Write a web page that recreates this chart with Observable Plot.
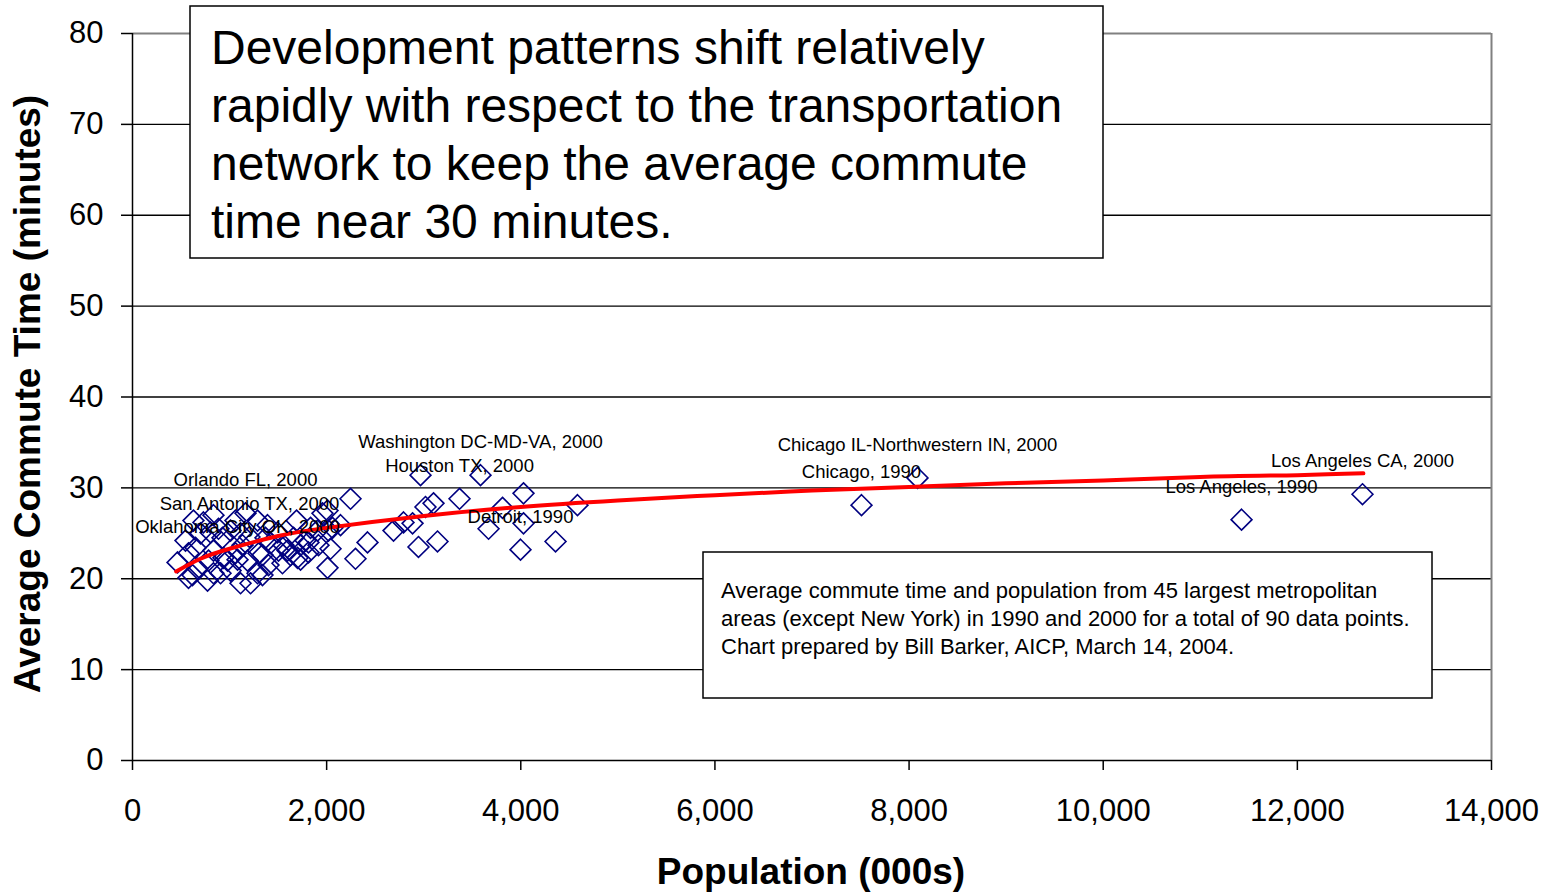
<!DOCTYPE html>
<html><head><meta charset="utf-8">
<script src="https://cdn.jsdelivr.net/npm/d3@7"></script>
<script src="https://cdn.jsdelivr.net/npm/@observablehq/plot@0.6"></script>
<style>html,body{margin:0;padding:0;background:#fff;}</style>
</head><body><div id="chart"></div>
<script>
const population = [12671, 11425, 8087, 7510, 4584, 4358, 4028, 3997, 4028, 3812,
  3668, 3585, 3369, 3101, 3018, 2967, 2946, 3142, 2885, 2792,
  2689, 2421, 2297, 2246, 2060, 1957, 2019, 1916, 1813, 1813,
  1731, 1628, 1504, 1422, 1339, 2009, 628, 834, 1164, 886,
  1010, 1391, 1494, 1834, 2009, 464, 577, 649, 783, 834,
  979, 1061, 1133, 1205, 1185, 618, 773, 907, 1113, 1010,
  1288, 1597, 1700, 1782, 1659, 1545, 1082, 701, 804, 927,
  1113, 1288, 670, 937, 1298, 577, 1216, 834, 1370, 1556,
  2040, 1401, 731, 1061, 1690, 2143, 1339, 1731, 546, 1906];
const commuteTime = [29.3, 26.5, 31.1, 28.1, 28.1, 24.1, 29.4, 23.2, 26.1, 27.8,
  25.5, 31.4, 28.8, 28.3, 27.9, 31.4, 23.5, 24.1, 26.1, 26.2,
  25.3, 24.0, 22.2, 28.8, 25.6, 27.2, 25.3, 23.7, 24.0, 22.9,
  22.1, 22.6, 23.1, 23.9, 22.6, 21.2, 26.4, 27.0, 27.2, 25.5,
  25.3, 25.9, 25.1, 25.6, 27.5, 21.8, 22.8, 23.4, 22.0, 23.1,
  22.0, 22.8, 23.7, 24.6, 22.0, 20.4, 19.8, 20.6, 19.5, 20.9,
  20.6, 23.1, 22.3, 24.2, 24.5, 21.7, 22.1, 25.0, 25.1, 24.5,
  25.0, 26.4, 21.1, 22.3, 22.8, 20.1, 19.5, 20.6, 24.5, 23.7,
  23.3, 21.5, 26.2, 26.4, 26.4, 25.9, 20.4, 23.7, 24.2, 25.3];
const labelIndex = [0, 1, 2, 3, 7, 11, 12, 38, 53, 66];
const labelText = ["Los Angeles CA, 2000", "Los Angeles, 1990", "Chicago IL-Northwestern IN, 2000",
  "Chicago, 1990", "Detroit, 1990", "Washington DC-MD-VA, 2000", "Houston TX, 2000",
  "Orlando FL, 2000", "San Antonio TX, 2000", "Oklahoma City OK, 2000"];
const trendPopulation = [450, 700, 1000, 1500, 2000, 3000, 4000, 5000, 6000, 7000, 8000, 9000, 10000, 11000, 12000, 12680];
const trendCommute = [20.8, 22.2, 23.3, 24.7, 25.6, 26.9, 27.9, 28.6, 29.2, 29.7, 30.1, 30.5, 30.8, 31.2, 31.4, 31.6];
const yTicks = [0, 10, 20, 30, 40, 50, 60, 70, 80];
const gridValues = [10, 20, 30, 40, 50, 60, 70];
const xTicks = [0, 2000, 4000, 6000, 8000, 10000, 12000, 14000];
const titleLines = ["Development patterns shift relatively", "rapidly with respect to the transportation",
  "network to keep the average commute", "time near 30 minutes."];
const noteLines = ["Average commute time and population from 45 largest metropolitan",
  "areas (except New York) in 1990 and 2000 for a total of 90 data points.",
  "Chart prepared by Bill Barker, AICP, March 14, 2004."];

const points = population.map((p, i) => ({population: p, commute: commuteTime[i]}));
const labeled = labelIndex.map((k, j) => ({population: population[k], commute: commuteTime[k], text: labelText[j]}));
const trend = trendPopulation.map((p, i) => ({population: p, commute: trendCommute[i]}));

const FONT = "'Liberation Sans', Arial, sans-serif";
const plot = Plot.plot({
  width: 1553, height: 894,
  marginLeft: 132, marginRight: 62, marginTop: 33, marginBottom: 134,
  style: {fontFamily: FONT, background: "#fff", color: "#000"},
  x: {domain: [0, 14000]},
  y: {domain: [0, 80]},
  marks: [
    Plot.ruleY(gridValues, {stroke: "#000", strokeWidth: 1.3}),
    Plot.ruleY([80], {stroke: "#808080", strokeWidth: 2}),
    Plot.ruleX([14000], {stroke: "#808080", strokeWidth: 2}),
    Plot.ruleX([0], {stroke: "#000", strokeWidth: 1.5}),
    Plot.ruleY([0], {stroke: "#000", strokeWidth: 1.5}),
    Plot.axisY({ticks: yTicks, tickSize: 11, tickPadding: 18, fontSize: 31, label: null, strokeWidth: 1.5}),
    Plot.axisX({ticks: xTicks, tickSize: 10, tickPadding: 28, fontSize: 31, label: null, strokeWidth: 1.5, tickFormat: d3.format(",")}),
    Plot.dot(points, {x: "population", y: "commute", symbol: "diamond2", r: 9.4, stroke: "#000080", strokeWidth: 1.6, fill: "none"}),
    Plot.line(trend, {x: "population", y: "commute", stroke: "#ff0000", strokeWidth: 4, curve: "natural"}),
    Plot.text(labeled, {x: "population", y: "commute", text: "text", dy: -33, fontSize: 18.5, fill: "#000"})
  ]
});

const svg = d3.select(plot);
svg.append("text").attr("transform", "translate(40,394) rotate(-90)")
  .attr("text-anchor", "middle").attr("font-weight", "bold").attr("font-size", 37)
  .attr("font-family", FONT).attr("fill", "#000").text("Average Commute Time (minutes)");
svg.append("text").attr("x", 811).attr("y", 884)
  .attr("text-anchor", "middle").attr("font-weight", "bold").attr("font-size", 37)
  .attr("font-family", FONT).attr("fill", "#000").text("Population (000s)");

const tb = svg.append("g");
tb.append("rect").attr("x", 190).attr("y", 6).attr("width", 913).attr("height", 252)
  .attr("fill", "#fff").attr("stroke", "#000").attr("stroke-width", 1.5);
titleLines.forEach((t, i) => tb.append("text").attr("x", 211).attr("y", 64 + i * 58)
  .attr("text-anchor", "start").attr("font-size", 48).attr("font-family", FONT).attr("fill", "#000").text(t));

const nb = svg.append("g");
nb.append("rect").attr("x", 703).attr("y", 552).attr("width", 729).attr("height", 146)
  .attr("fill", "#fff").attr("stroke", "#000").attr("stroke-width", 1.5);
noteLines.forEach((t, i) => nb.append("text").attr("x", 721).attr("y", 598 + i * 28)
  .attr("text-anchor", "start").attr("font-size", 22).attr("font-family", FONT).attr("fill", "#000").text(t));

document.getElementById("chart").appendChild(plot);
</script>
</body></html>
